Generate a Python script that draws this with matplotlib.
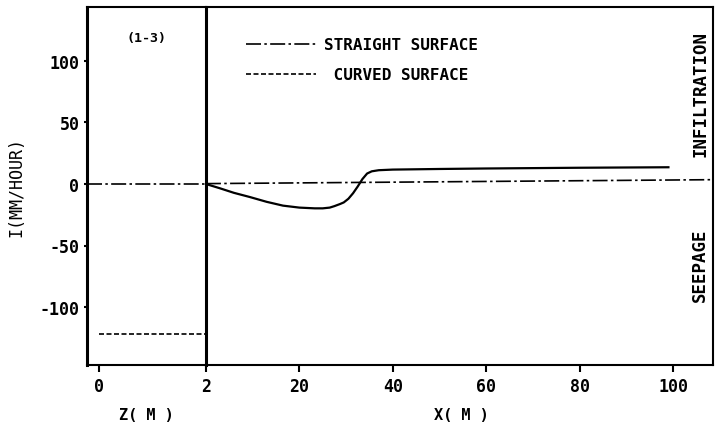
import matplotlib
matplotlib.use("AGG")
import matplotlib.pyplot as plt
from matplotlib.lines import Line2D

# left panel (Z in metres)
z_straight = [-0.23, 2.0]
i_z_straight = [0.0, 0.0]
z_curved = [0.0, 2.0]
i_z_curved = [-122.0, -122.0]

# right panel (X in metres)
x_curve = [0, 3, 6, 9.4, 13, 16.5, 20, 23.3, 25, 26.5, 27.5, 28.7, 29.5,
           30.5, 31.5, 32.5, 33.5, 34.5, 35.5, 37, 40, 50, 60, 80, 99]
i_curve = [0, -3.5, -7.2, -10.6, -14.5, -17.6, -19.2, -19.8, -19.8, -19.2,
           -18.0, -16.3, -15.0, -12.0, -7.5, -2.0, 4.0, 8.5, 10.3, 11.2,
           11.7, 12.2, 12.6, 13.2, 13.6]
x_straight = [0, 108.5]
i_straight = [0.3, 3.5]

z_ticks = [0, 2]
x_ticks = [20, 40, 60, 80, 100]
y_ticks = [-100, -50, 0, 50, 100]

DASHDOT = (0, (9, 2, 1.5, 2))
DASHED = (0, (3, 1.5))

plt.rcParams["font.family"] = "DejaVu Sans Mono"
plt.rcParams["font.weight"] = "bold"
plt.rcParams["axes.unicode_minus"] = False

fig = plt.figure(figsize=(7.2, 4.35), dpi=100)
ax2 = fig.add_axes([0.286, 0.159, 0.704, 0.823])
ax1 = fig.add_axes([0.121, 0.159, 0.165, 0.823], sharey=ax2)
ax1.set_zorder(3)
ax1.patch.set_visible(False)

ylim = (-147, 144)

ax1.plot(z_straight, i_z_straight, color="black", lw=1.2, ls=DASHDOT)
ax1.plot(z_curved, i_z_curved, color="black", lw=1.2, ls=DASHED)
ax1.set_xlim(-0.23, 2.0)
ax1.set_ylim(*ylim)
ax1.set_xticks(z_ticks)
ax1.set_yticks(y_ticks)
ax1.tick_params(axis="x", direction="out", length=5, width=1.5, labelsize=12)
ax1.tick_params(axis="y", direction="out", length=2, width=1.5, labelsize=12)
ax1.set_ylabel("I(MM/HOUR)", fontsize=12, labelpad=10)
ax1.text(0.5, -0.14, "Z( M )", transform=ax1.transAxes, ha="center",
         va="center", fontsize=11)
ax1.text(0.5, 0.915, "(1-3)", transform=ax1.transAxes, ha="center",
         va="center", fontsize=9.5)
for side in ["left", "right"]:
    ax1.spines[side].set_linewidth(2.2)
for side in ["top", "bottom"]:
    ax1.spines[side].set_linewidth(1.5)

ax2.plot(x_curve, i_curve, color="black", lw=1.6)
ax2.plot(x_straight, i_straight, color="black", lw=1.2, ls=DASHDOT)
ax2.set_xlim(0, 108.5)
ax2.set_xticks(x_ticks)
ax2.tick_params(axis="x", direction="out", length=5, width=1.5, labelsize=12)
ax2.tick_params(axis="y", left=False, labelleft=False)
ax2.text(0.503, -0.14, "X( M )", transform=ax2.transAxes, ha="center",
         va="center", fontsize=11)
ax2.spines["left"].set_visible(False)
for side in ["top", "bottom", "right"]:
    ax2.spines[side].set_linewidth(1.5)

ax2.text(0.975, 0.76, "INFILTRATION", transform=ax2.transAxes, rotation=90,
         ha="center", va="center", fontsize=12.5)
ax2.text(0.975, 0.28, "SEEPAGE", transform=ax2.transAxes, rotation=90,
         ha="center", va="center", fontsize=12.5)

handles = [Line2D([], [], color="black", lw=1.2, ls=DASHDOT),
           Line2D([], [], color="black", lw=1.2, ls=DASHED)]
ax2.legend(handles, ["STRAIGHT SURFACE", " CURVED SURFACE"],
           loc="upper left", bbox_to_anchor=(0.05, 0.955), frameon=False,
           handlelength=4.4, handletextpad=0.5, labelspacing=0.95,
           prop=dict(size=11.5, weight="bold", family="DejaVu Sans Mono"))

fig.savefig("out.png", dpi=100)
